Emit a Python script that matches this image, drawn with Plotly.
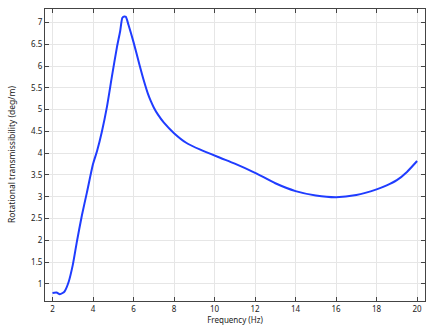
import plotly.graph_objects as go

freq = [2.0, 2.2, 2.36, 2.5, 2.6, 2.8, 3.0, 3.2, 3.45, 3.7, 4.0, 4.2, 4.44, 4.69, 4.93, 5.18, 5.34, 5.45, 5.55, 5.62, 5.75, 6.0, 6.3, 6.5, 6.7, 6.85, 7.0, 7.2, 7.5, 8.0, 8.6, 9.3, 10.3, 11.0, 12.0, 13.0, 14.0, 15.0, 16.0, 17.0, 18.0, 18.5, 19.0, 19.5, 20.0]
trans = [0.79, 0.80, 0.76, 0.79, 0.83, 1.05, 1.43, 1.96, 2.57, 3.1, 3.75, 4.05, 4.5, 5.07, 5.75, 6.43, 6.8, 7.11, 7.14, 7.13, 6.95, 6.55, 6.02, 5.68, 5.38, 5.2, 5.05, 4.89, 4.7, 4.46, 4.24, 4.08, 3.89, 3.76, 3.55, 3.31, 3.13, 3.03, 2.99, 3.04, 3.17, 3.26, 3.38, 3.57, 3.82]

x_ticks = [2, 4, 6, 8, 10, 12, 14, 16, 18, 20]
y_ticks = [1, 1.5, 2, 2.5, 3, 3.5, 4, 4.5, 5, 5.5, 6, 6.5, 7]

fig = go.Figure()
fig.add_trace(go.Scatter(x=freq, y=trans, mode="lines",
                         line=dict(color="#1f3cff", width=2, shape="spline", smoothing=0.6)))

axis_common = dict(showline=True, linecolor="#444", linewidth=1, mirror="ticks",
                   ticks="inside", ticklen=4, tickcolor="#444",
                   showgrid=True, gridcolor="#e6e6e6", gridwidth=1, zeroline=False,
                   tickfont=dict(size=8, color="#222"))

fig.update_layout(
    width=434, height=327,
    margin=dict(l=44.5, r=8, t=8, b=24),
    paper_bgcolor="white", plot_bgcolor="white",
    showlegend=False,
    font=dict(family="Noto Sans", size=8, color="#222"),
    xaxis=dict(range=[1.63, 20.39], tickvals=x_ticks, **axis_common,
               title=dict(text="Frequency (Hz)", font=dict(size=8), standoff=0)),
    yaxis=dict(range=[0.607, 7.31], tickvals=y_ticks, **axis_common),
    annotations=[dict(text="Rotational transmissibility (deg/m)", textangle=-90,
                      xref="paper", yref="paper", x=0, y=0.5, xshift=-34,
                      xanchor="center", yanchor="middle", showarrow=False,
                      font=dict(size=8.5, color="#222"))],
)

fig.write_html("out.html")
